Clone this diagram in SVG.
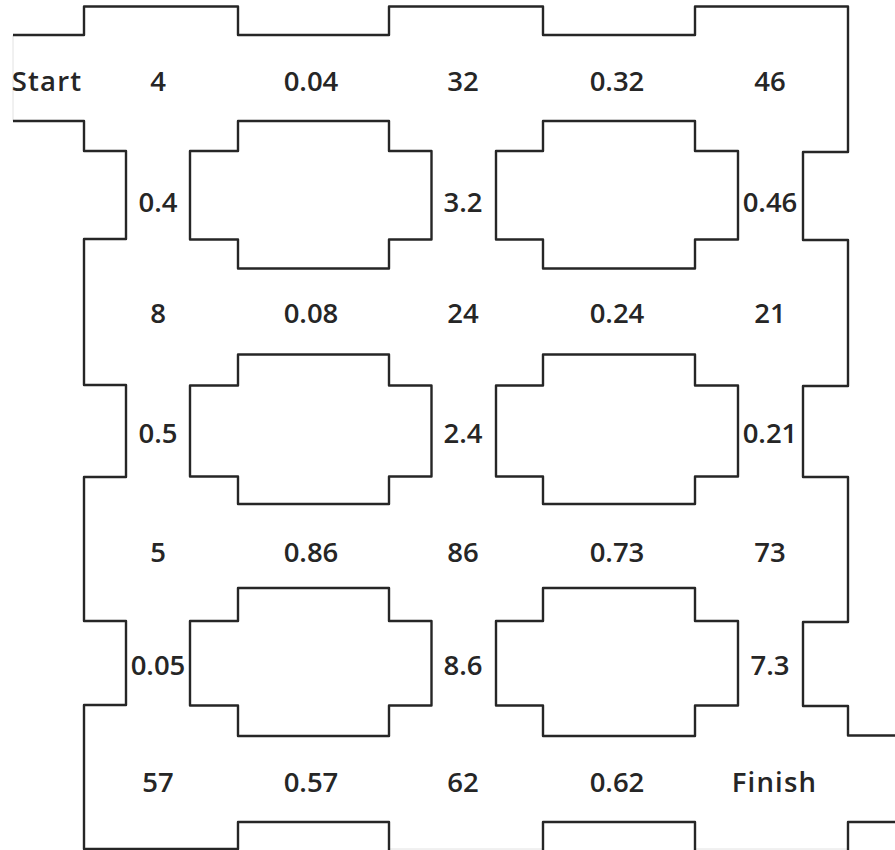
<svg xmlns="http://www.w3.org/2000/svg" width="895" height="850" viewBox="0 0 895 850">
<style>
.w{fill:none;stroke:#262626;stroke-width:2.4;stroke-linejoin:round;stroke-linecap:butt}
.f{fill:none;stroke:#e2e2e2;stroke-width:1}
text{font-family:"Open Sans","Liberation Sans",sans-serif;font-weight:600;font-size:27.5px;fill:#262626;text-anchor:middle}
.word{letter-spacing:1.2px}
</style>
<rect width="895" height="850" fill="#ffffff"/>
<g id="walls">
<path class="f" d="M13,35 V121"/>
<path class="f" d="M389,849 H543 M695,849 H848"/>
<path class="w" d="M13,35 H84 V6.5 H238 V35 H389 V6.5 H543 V35 H695 V6.5 H848 V152 H803 V240 H848 V386 H803 V477 H848 V622 H803 V706 H848 V735.5 H895"/>
<path class="w" d="M13,121 H84 V151 H126 V239 H84 V385 H126 V477 H84 V621 H126 V705 H84 V849 H238 V822 H389 V850"/>
<path class="w" d="M543,850 V822 H695 V850"/>
<path class="w" d="M848,850 V822 H895"/>
</g>
<g id="holes">
<path class="w" d="M238,121 H389 V151 H431.5 V239.5 H389 V268.5 H238 V239.5 H190 V151 H238 Z"/>
<path class="w" d="M543,121 H695 V151 H738 V239.5 H695 V268.5 H543 V239.5 H496 V151 H543 Z"/>
<path class="w" d="M238,354.5 H389 V385.5 H431.5 V476.5 H389 V504 H238 V476.5 H190 V385.5 H238 Z"/>
<path class="w" d="M543,354.5 H695 V385.5 H738 V476.5 H695 V504 H543 V476.5 H496 V385.5 H543 Z"/>
<path class="w" d="M238,588 H389 V621 H431.5 V705.5 H389 V736 H238 V705.5 H190 V621 H238 Z"/>
<path class="w" d="M543,588 H695 V621 H738 V705.5 H695 V736 H543 V705.5 H496 V621 H543 Z"/>
</g>
<g id="start"><text class="word" x="47" y="91">Start</text></g>
<g id="n-4"><text x="158" y="91">4</text></g>
<g id="n-0.04"><text x="311" y="91">0.04</text></g>
<g id="n-32"><text x="463" y="91">32</text></g>
<g id="n-0.32"><text x="617" y="91">0.32</text></g>
<g id="n-46"><text x="770" y="91">46</text></g>
<g id="n-0.4"><text x="158" y="212">0.4</text></g>
<g id="n-3.2"><text x="463" y="212">3.2</text></g>
<g id="n-0.46"><text x="770" y="212">0.46</text></g>
<g id="n-8"><text x="158" y="323">8</text></g>
<g id="n-0.08"><text x="311" y="323">0.08</text></g>
<g id="n-24"><text x="463" y="323">24</text></g>
<g id="n-0.24"><text x="617" y="323">0.24</text></g>
<g id="n-21"><text x="770" y="323">21</text></g>
<g id="n-0.5"><text x="158" y="443">0.5</text></g>
<g id="n-2.4"><text x="463" y="443">2.4</text></g>
<g id="n-0.21"><text x="770" y="443">0.21</text></g>
<g id="n-5"><text x="158" y="562">5</text></g>
<g id="n-0.86"><text x="311" y="562">0.86</text></g>
<g id="n-86"><text x="463" y="562">86</text></g>
<g id="n-0.73"><text x="617" y="562">0.73</text></g>
<g id="n-73"><text x="770" y="562">73</text></g>
<g id="n-0.05"><text x="158" y="675">0.05</text></g>
<g id="n-8.6"><text x="463" y="675">8.6</text></g>
<g id="n-7.3"><text x="770" y="675">7.3</text></g>
<g id="n-57"><text x="158" y="792">57</text></g>
<g id="n-0.57"><text x="311" y="792">0.57</text></g>
<g id="n-62"><text x="463" y="792">62</text></g>
<g id="n-0.62"><text x="617" y="792">0.62</text></g>
<g id="finish"><text class="word" x="774.5" y="792">Finish</text></g>
</svg>
